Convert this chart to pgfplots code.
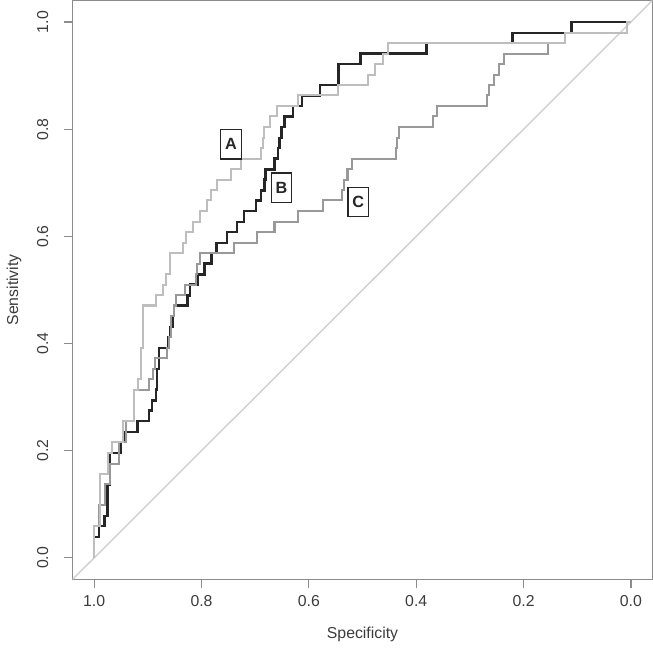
\documentclass[border=0pt]{standalone}
\usepackage{pgfplots}
\pgfplotsset{compat=1.18}
\usepackage{fontspec}
\setmainfont{Liberation Sans}

\definecolor{curveA}{HTML}{BEBEBE}
\definecolor{curveB}{HTML}{262626}
\definecolor{curveC}{HTML}{999999}
\definecolor{diag}{HTML}{D0D0D0}
\definecolor{frame}{HTML}{8C8C8C}
\definecolor{txt}{HTML}{3C3C3C}

\begin{document}
\begin{tikzpicture}
\begin{axis}[
  width=286pt, height=285.5pt, scale only axis,
  x dir=reverse,
  xmin=-0.04, xmax=1.04, ymin=-0.04, ymax=1.04,
  xtick={0,0.2,0.4,0.6,0.8,1},
  xticklabels={0.0,0.2,0.4,0.6,0.8,1.0},
  ytick={0,0.2,0.4,0.6,0.8,1},
  yticklabels={0.0,0.2,0.4,0.6,0.8,1.0},
  tick pos=left,
  tick align=outside,
  major tick length=4.5pt,
  tick style={frame, line width=0.6pt},
  axis line style={frame, line width=0.6pt},
  ticklabel style={font=\fontsize{7.8}{9}\selectfont, text=txt},
  y tick label style={xshift=-4pt, rotate=90, anchor=south},
  label style={font=\fontsize{7.8}{9}\selectfont, text=txt},
  xlabel={Specificity},
  ylabel={Sensitivity},
  xlabel style={at={(axis description cs:0.5,-0.0946)}, anchor=center},
  ylabel style={at={(axis description cs:-0.101,0.5)}, anchor=center},
]
% chance line
\addplot[diag, line width=0.7pt] coordinates {(1.04,-0.04) (-0.04,1.04)};

% curve B
\addplot[curveB, line width=1.2pt] coordinates {
(1,0) (1,0.039) (0.991,0.039) (0.991,0.059) (0.981,0.059) (0.981,0.078)
(0.975,0.078) (0.975,0.137) (0.970,0.137) (0.970,0.196) (0.951,0.196) (0.951,0.216)
(0.945,0.216) (0.945,0.235) (0.919,0.235) (0.919,0.255) (0.898,0.255) (0.898,0.275)
(0.892,0.275) (0.892,0.294) (0.885,0.294) (0.885,0.314) (0.883,0.314) (0.883,0.353)
(0.879,0.353) (0.879,0.392) (0.862,0.392) (0.862,0.412) (0.858,0.412) (0.858,0.431)
(0.853,0.431) (0.853,0.451) (0.851,0.451) (0.851,0.471) (0.826,0.471) (0.826,0.490)
(0.821,0.490) (0.821,0.510) (0.806,0.510) (0.806,0.529) (0.794,0.529) (0.794,0.549)
(0.781,0.549) (0.781,0.569) (0.772,0.569) (0.772,0.588) (0.753,0.588) (0.753,0.608)
(0.734,0.608) (0.734,0.627) (0.721,0.627) (0.721,0.647) (0.698,0.647) (0.698,0.667)
(0.689,0.667) (0.689,0.686) (0.683,0.686) (0.683,0.706) (0.681,0.706) (0.681,0.725)
(0.664,0.725) (0.664,0.745) (0.658,0.745) (0.658,0.765) (0.655,0.765) (0.655,0.784)
(0.651,0.784) (0.651,0.804) (0.645,0.804) (0.645,0.824) (0.630,0.824) (0.630,0.843)
(0.613,0.843) (0.613,0.863) (0.579,0.863) (0.579,0.882) (0.545,0.882) (0.545,0.922)
(0.504,0.922) (0.504,0.941) (0.381,0.941) (0.381,0.961) (0.221,0.961) (0.221,0.980)
(0.111,0.980) (0.111,1) (0,1)
};

% curve C
\addplot[curveC, line width=1pt] coordinates {
(1,0) (1,0.059) (0.991,0.059) (0.991,0.098) (0.979,0.098) (0.979,0.137)
(0.970,0.137) (0.970,0.176) (0.953,0.176) (0.953,0.216) (0.940,0.216) (0.940,0.255)
(0.925,0.255) (0.925,0.314) (0.898,0.314) (0.898,0.333) (0.891,0.333) (0.891,0.353)
(0.887,0.353) (0.887,0.373) (0.864,0.373) (0.864,0.392) (0.860,0.392) (0.860,0.412)
(0.857,0.412) (0.857,0.451) (0.851,0.451) (0.851,0.471) (0.847,0.471) (0.847,0.490)
(0.830,0.490) (0.830,0.510) (0.811,0.510) (0.811,0.529) (0.809,0.529) (0.809,0.549)
(0.802,0.549) (0.802,0.569) (0.740,0.569) (0.740,0.588) (0.696,0.588) (0.696,0.608)
(0.664,0.608) (0.664,0.627) (0.621,0.627) (0.621,0.647) (0.574,0.647) (0.574,0.667)
(0.538,0.667) (0.538,0.686) (0.534,0.686) (0.534,0.706) (0.528,0.706) (0.528,0.725)
(0.519,0.725) (0.519,0.745) (0.438,0.745) (0.438,0.765) (0.435,0.765) (0.435,0.784)
(0.432,0.784) (0.432,0.804) (0.368,0.804) (0.368,0.824) (0.362,0.824) (0.362,0.843)
(0.268,0.843) (0.268,0.863) (0.264,0.863) (0.264,0.882) (0.255,0.882) (0.255,0.902)
(0.245,0.902) (0.245,0.922) (0.236,0.922) (0.236,0.941) (0.155,0.941) (0.155,0.961)
(0.123,0.961) (0.123,0.980) (0.008,0.980) (0.008,1) (0,1)
};

% curve A
\addplot[curveA, line width=1pt] coordinates {
(1,0) (1,0.059) (0.989,0.059) (0.989,0.157) (0.975,0.157) (0.975,0.196)
(0.966,0.196) (0.966,0.216) (0.947,0.216) (0.947,0.255) (0.925,0.255) (0.925,0.314)
(0.919,0.314) (0.919,0.333) (0.913,0.333) (0.913,0.392) (0.909,0.392) (0.909,0.471)
(0.885,0.471) (0.885,0.490) (0.872,0.490) (0.872,0.510) (0.866,0.510) (0.866,0.529)
(0.858,0.529) (0.858,0.569) (0.834,0.569) (0.834,0.588) (0.828,0.588) (0.828,0.608)
(0.815,0.608) (0.815,0.627) (0.802,0.627) (0.802,0.647) (0.790,0.647) (0.790,0.667)
(0.783,0.667) (0.783,0.686) (0.772,0.686) (0.772,0.706) (0.745,0.706) (0.745,0.725)
(0.726,0.725) (0.726,0.745) (0.689,0.745) (0.689,0.765) (0.685,0.765) (0.685,0.784)
(0.683,0.784) (0.683,0.804) (0.672,0.804) (0.672,0.824) (0.660,0.824) (0.660,0.843)
(0.621,0.843) (0.621,0.863) (0.545,0.863) (0.545,0.882) (0.489,0.882) (0.489,0.902)
(0.477,0.902) (0.477,0.922) (0.462,0.922) (0.462,0.941) (0.453,0.941) (0.453,0.961)
(0.123,0.961) (0.123,0.980) (0.008,0.980) (0.008,1) (0,1)
};

\tikzset{lbl/.style={draw=curveB, line width=0.6pt, fill=white, text=curveB,
  font=\fontsize{8}{9}\bfseries, inner sep=0pt, minimum width=10pt, minimum height=14.5pt}}
\node[lbl] at (axis cs:0.745,0.772) {A};
\node[lbl] at (axis cs:0.651,0.691) {B};
\node[lbl] at (axis cs:0.508,0.664) {C};
\end{axis}
\end{tikzpicture}
\end{document}
